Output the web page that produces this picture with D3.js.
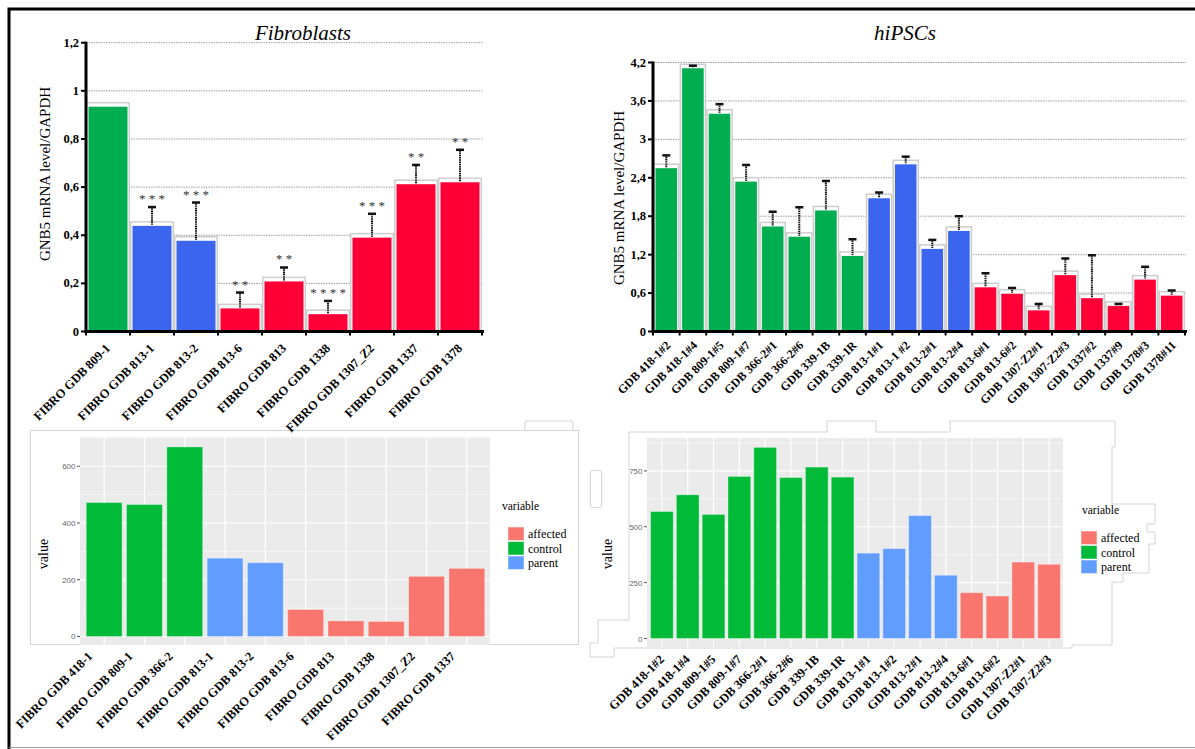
<!DOCTYPE html>
<html lang="en">
<head>
<meta charset="UTF-8">
<title>GNB5 expression</title>
<script src="https://d3js.org/d3.v7.min.js"></script>
<style>
    body { margin: 0; background: #fff; }
    svg { display: block; }
    svg text { font-family: "Liberation Serif", "DejaVu Serif", Tinos, "Times New Roman", serif; }
    svg text.sans { font-family: "Liberation Sans", "DejaVu Sans", Arial, sans-serif; }
</style>
</head>
<body>
<svg id="fig" width="1195" height="749"></svg>
<script>
// ---- data: qPCR panels ----
const fibroLabels = ["FIBRO GDB 809-1", "FIBRO GDB 813-1", "FIBRO GDB 813-2", "FIBRO GDB 813-6", "FIBRO GDB 813",
    "FIBRO GDB 1338", "FIBRO GDB 1307_Z2", "FIBRO GDB 1337", "FIBRO GDB 1378"];
const fibroValues = [0.934, 0.439, 0.377, 0.096, 0.208, 0.072, 0.39, 0.612, 0.62];
const fibroErr = [0, 0.078, 0.159, 0.066, 0.058, 0.055, 0.099, 0.08, 0.135];
const fibroGroup = ["control", "parent", "parent", "affected", "affected", "affected", "affected", "affected", "affected"];
const fibroStars = ["", "***", "***", "**", "**", "****", "***", "**", "**"];
const fibroTicks = [0, 0.2, 0.4, 0.6, 0.8, 1, 1.2];

const ipscLabels = ["GDB 418-1#2", "GDB 418-1#4", "GDB 809-1#5", "GDB 809-1#7", "GDB 366-2#1", "GDB 366-2#6",
    "GDB 339-1B", "GDB 339-1R", "GDB 813-1#1", "GDB 813-1 #2", "GDB 813-2#1", "GDB 813-2#4", "GDB 813-6#1",
    "GDB 813-6#2", "GDB 1307-Z2#1", "GDB 1307-Z2#3", "GDB 1337#2", "GDB 1337#9", "GDB 1378#3", "GDB 1378#11"];
const ipscValues = [2.55, 4.11, 3.4, 2.34, 1.64, 1.48, 1.89, 1.18, 2.08, 2.61, 1.29, 1.57, 0.69, 0.59, 0.33, 0.88, 0.52, 0.4, 0.81, 0.56];
const ipscErr = [0.2, 0.04, 0.15, 0.26, 0.23, 0.46, 0.46, 0.26, 0.09, 0.12, 0.14, 0.23, 0.22, 0.09, 0.1, 0.26, 0.67, 0.03, 0.2, 0.08];
const ipscGroup = ["control", "control", "control", "control", "control", "control", "control", "control",
    "parent", "parent", "parent", "parent", "affected", "affected", "affected", "affected", "affected", "affected", "affected", "affected"];
const ipscTicks = [0, 0.6, 1.2, 1.8, 2.4, 3, 3.6, 4.2];

// ---- data: ggplot panels ----
const ggFibroLabels = ["FIBRO GDB 418-1", "FIBRO GDB 809-1", "FIBRO GDB 366-2", "FIBRO GDB 813-1", "FIBRO GDB 813-2",
    "FIBRO GDB 813-6", "FIBRO GDB 813", "FIBRO GDB  1338", "FIBRO GDB 1307_Z2", "FIBRO GDB 1337"];
const ggFibroValues = [472, 465, 668, 276, 260, 95, 55, 53, 212, 240];
const ggFibroGroup = ["control", "control", "control", "parent", "parent", "affected", "affected", "affected", "affected", "affected"];
const ggFibroTicks = [0, 200, 400, 600];

const ggIpscLabels = ["GDB 418-1#2", "GDB 418-1#4", "GDB 809-1#5", "GDB 809-1#7", "GDB 366-2#1", "GDB 366-2#6",
    "GDB 339-1B", "GDB 339-1R", "GDB 813-1#1", "GDB 813-1#2", "GDB 813-2#1", "GDB 813-2#4", "GDB 813-6#1",
    "GDB 813-6#2", "GDB 1307-Z2#1", "GDB 1307-Z2#3"];
const ggIpscValues = [568, 643, 555, 725, 855, 720, 767, 722, 382, 402, 550, 283, 205, 190, 342, 332];
const ggIpscGroup = ["control", "control", "control", "control", "control", "control", "control", "control",
    "parent", "parent", "parent", "parent", "affected", "affected", "affected", "affected"];
const ggIpscTicks = [0, 250, 500, 750];

const legendKeys = ["affected", "control", "parent"];

const barColor = { control: "#00ad4f", parent: "#3b65ef", affected: "#ff0036" };
const ggColor = d3.scaleOrdinal().domain(legendKeys).range(["#F8766D", "#00BA38", "#619CFF"]);
const comma = t => String(t).replace(".", ",");

const svg = d3.select("#fig");

// faint leftovers of the pasted ggplot windows
const ghost = svg.append("g").attr("fill", "none").attr("stroke", "#d4d4d4").attr("stroke-width", 1);
ghost.append("rect").attr("x", 30.5).attr("y", 430.5).attr("width", 548).attr("height", 214).attr("fill", "#fff");
ghost.append("path").attr("d", "M525,430 V423 Q525,421 527,421 H571 Q573,421 573,423 V430");
ghost.append("rect").attr("x", 590.5).attr("y", 470.5).attr("width", 11).attr("height", 37).attr("rx", 2);
ghost.append("path").attr("d", "M629,432 H827 V421 H876 V432 H950 V421 H1115 V447 H1112 V504 H1155 V524 H1147 V532 H1155 V544 H1149 V573 H1123 V582 H1112 V645 H1072 V648 H614 V657 H590 V643 H598 V620 H629 Z");

// outer frame
svg.append("path").attr("d", "M9,749 V9 H1195").attr("fill", "none").attr("stroke", "#000").attr("stroke-width", 3);
svg.append("line").attr("x1", 9).attr("x2", 1195).attr("y1", 747.5).attr("y2", 747.5).attr("stroke", "#9a9a9a");

// ---- qPCR bar chart with error bars ----
function qpcrPanel(o) {
    const g = svg.append("g");
    const x = d3.scaleBand().domain(o.labels).range([o.left, o.right]).padding(0);
    const y = d3.scaleLinear().domain([0, o.max]).range([o.bottom, o.top]);
    const cx = d => x(d) + x.bandwidth() / 2;

    g.selectAll(".grid").data(o.ticks.filter(t => t > 0)).enter().append("line")
        .attr("x1", o.left).attr("x2", o.right + 1)
        .attr("y1", d => y(d)).attr("y2", d => y(d))
        .attr("stroke", "#9c9c9c").attr("stroke-width", 1).attr("stroke-dasharray", "1.5,1");

    const rows = o.labels.map((d, i) => ({ label: d, v: o.values[i], e: o.err[i], grp: o.groups[i], s: o.stars ? o.stars[i] : "" }));
    const bars = g.selectAll(".bar").data(rows).enter().append("g");
    bars.append("rect")
        .attr("x", d => x(d.label) + 0.75).attr("width", x.bandwidth() - 1.5)
        .attr("y", d => y(d.v) - 4)
        .attr("height", d => o.bottom - y(d.v) + 4)
        .attr("fill", "#fff").attr("stroke", "#cdcdcd").attr("stroke-width", 1.5);
    bars.append("rect")
        .attr("x", d => x(d.label) + 2.5).attr("width", x.bandwidth() - 5)
        .attr("y", d => y(d.v))
        .attr("height", d => o.bottom - y(d.v))
        .attr("fill", d => barColor[d.grp]);

    // error bars
    const eb = bars.filter(d => d.e > 0);
    eb.append("line")
        .attr("x1", d => cx(d.label)).attr("x2", d => cx(d.label))
        .attr("y1", d => y(d.v) - 1).attr("y2", d => y(d.v + d.e))
        .attr("stroke", "#111").attr("stroke-width", 2).attr("stroke-dasharray", "1.2,0.6");
    eb.append("line")
        .attr("x1", d => cx(d.label) - 4).attr("x2", d => cx(d.label) + 4)
        .attr("y1", d => y(d.v + d.e)).attr("y2", d => y(d.v + d.e))
        .attr("stroke", "#111").attr("stroke-width", 2.5);

    bars.filter(d => d.s).append("text")
        .attr("x", d => cx(d.label))
        .attr("y", d => y(d.v + d.e) - 4)
        .attr("text-anchor", "middle").attr("font-size", 13).attr("fill", "#333")
        .text(d => d.s.split("").join(" "));

    // axes
    g.append("line").attr("x1", o.left).attr("x2", o.left).attr("y1", o.bottom + 1.5).attr("y2", o.top - 1)
        .attr("stroke", "#000").attr("stroke-width", 3);
    g.append("line").attr("x1", o.left - 1.5).attr("x2", o.right + 2).attr("y1", o.bottom).attr("y2", o.bottom)
        .attr("stroke", "#000").attr("stroke-width", 3);
    g.selectAll(".yt").data(o.ticks).enter().append("line")
        .attr("x1", o.left - 5).attr("x2", o.left).attr("y1", d => y(d)).attr("y2", d => y(d))
        .attr("stroke", "#000").attr("stroke-width", 2);
    g.selectAll(".ytl").data(o.ticks).enter().append("text")
        .attr("x", o.left - 7).attr("y", d => y(d) + 4)
        .attr("text-anchor", "end").attr("font-size", 12.5).attr("font-weight", "bold")
        .text(comma);
    g.selectAll(".xt").data(o.labels.map(d => x(d) + x.bandwidth()).concat([o.left])).enter().append("line")
        .attr("x1", d => d).attr("x2", d => d).attr("y1", o.bottom).attr("y2", o.bottom + 4)
        .attr("stroke", "#000").attr("stroke-width", 2);
    g.selectAll(".xtl").data(o.labels).enter().append("text")
        .attr("transform", d => "translate(" + (cx(d) + o.lx) + "," + o.ly + ") rotate(-45)")
        .attr("text-anchor", "end").attr("font-size", o.labelSize).attr("font-weight", "bold")
        .text(d => d);

    g.append("text")
        .attr("transform", "translate(" + o.titleYx + "," + o.titleYy + ") rotate(-90)")
        .attr("text-anchor", "middle").attr("font-size", 15).text("GNB5 mRNA level/GAPDH");
    g.append("text").attr("x", o.titleX).attr("y", 40)
        .attr("text-anchor", "middle").attr("font-size", 21).attr("font-style", "italic").text(o.title);
}

qpcrPanel({
    labels: fibroLabels, values: fibroValues, err: fibroErr, groups: fibroGroup, stars: fibroStars,
    ticks: fibroTicks, max: 1.2, left: 86, right: 482, top: 42.7, bottom: 331.5,
    lx: 3, ly: 349, labelSize: 12.5, titleYx: 50, titleYy: 174, title: "Fibroblasts", titleX: 303
});
qpcrPanel({
    labels: ipscLabels, values: ipscValues, err: ipscErr, groups: ipscGroup, stars: null,
    ticks: ipscTicks, max: 4.2, left: 653, right: 1185, top: 62.5, bottom: 331.5,
    lx: 5, ly: 346, labelSize: 12, titleYx: 624, titleYy: 198, title: "hiPSCs", titleX: 905
});

// ---- ggplot style bar chart ----
function ggPanel(o) {
    const g = svg.append("g");
    const x = d3.scaleBand().domain(o.labels).range([o.bl, o.br]).paddingInner(o.pad).paddingOuter(o.pad / 2);
    const y = d3.scaleLinear().domain(o.domain).range([o.bottom, o.top]);
    const cx = d => x(d) + x.bandwidth() / 2;

    g.append("rect").attr("x", o.left).attr("y", o.top).attr("width", o.right - o.left).attr("height", o.bottom - o.top)
        .attr("fill", "#ebebeb");
    const minor = o.ticks.map(t => t + (o.ticks[1] - o.ticks[0]) / 2).filter(t => y(t) > o.top);
    g.selectAll(".mg").data(minor).enter().append("line")
        .attr("x1", o.left).attr("x2", o.right).attr("y1", d => y(d)).attr("y2", d => y(d))
        .attr("stroke", "#fff").attr("stroke-width", 0.6);
    g.selectAll(".hg").data(o.ticks).enter().append("line")
        .attr("x1", o.left).attr("x2", o.right).attr("y1", d => y(d)).attr("y2", d => y(d))
        .attr("stroke", "#fff").attr("stroke-width", 1.2);
    g.selectAll(".vg").data(o.labels).enter().append("line")
        .attr("x1", cx).attr("x2", cx)
        .attr("y1", o.top).attr("y2", o.bottom).attr("stroke", "#fff").attr("stroke-width", 1.2);

    g.selectAll(".bar").data(o.labels).enter().append("rect")
        .attr("x", d => x(d)).attr("width", x.bandwidth())
        .attr("y", (d, i) => y(o.values[i])).attr("height", (d, i) => y(0) - y(o.values[i]))
        .attr("fill", (d, i) => ggColor(o.groups[i]))
        .attr("stroke", "rgba(255,255,255,0.35)").attr("stroke-width", 1);

    g.selectAll(".yt").data(o.ticks).enter().append("line")
        .attr("x1", o.left - 3).attr("x2", o.left).attr("y1", d => y(d)).attr("y2", d => y(d))
        .attr("stroke", "#555").attr("stroke-width", 1);
    g.selectAll(".ytl").data(o.ticks).enter().append("text")
        .attr("class", "sans")
        .attr("x", o.left - 4.5).attr("y", d => y(d) + 3)
        .attr("text-anchor", "end").attr("font-size", 8).attr("fill", "#6a6a6a").text(d => d);
    g.selectAll(".xtl").data(o.labels).enter().append("text")
        .attr("transform", d => "translate(" + (cx(d) + o.lx) + "," + o.ly + ") rotate(-45)")
        .attr("text-anchor", "end").attr("font-size", 12.5).attr("font-weight", "bold").text(d => d);

    g.append("text").attr("transform", "translate(" + o.vx + ",554) rotate(-90)")
        .attr("text-anchor", "middle").attr("font-size", 14).text("value");

    const lg = g.append("g");
    lg.append("text").attr("x", o.legX).attr("y", o.legY).attr("font-size", 11.5).text("variable");
    lg.selectAll(".key").data(legendKeys).enter().append("rect")
        .attr("x", o.legX + o.keyDx).attr("y", (d, i) => o.legY + 17 + i * 14.5)
        .attr("width", 16).attr("height", 13.5).attr("fill", d => ggColor(d))
        .attr("stroke", "rgba(255,255,255,0.5)");
    lg.selectAll(".kl").data(legendKeys).enter().append("text")
        .attr("x", o.legX + o.keyDx + 20).attr("y", (d, i) => o.legY + 28 + i * 14.5)
        .attr("font-size", 12).text(d => d);
}

ggPanel({
    labels: ggFibroLabels, values: ggFibroValues, groups: ggFibroGroup, ticks: ggFibroTicks,
    left: 80, right: 490, top: 437, bottom: 645, domain: [-30, 703], bl: 84, br: 487, pad: 0.11,
    lx: -11, ly: 657, vx: 48, legX: 502, legY: 510, keyDx: 6
});
ggPanel({
    labels: ggIpscLabels, values: ggIpscValues, groups: ggIpscGroup, ticks: ggIpscTicks,
    left: 647, right: 1063, top: 438, bottom: 647, domain: [-38, 897], bl: 649, br: 1062, pad: 0.12,
    lx: 3, ly: 660, vx: 612, legX: 1082, legY: 514, keyDx: -1
});
</script>
</body>
</html>
